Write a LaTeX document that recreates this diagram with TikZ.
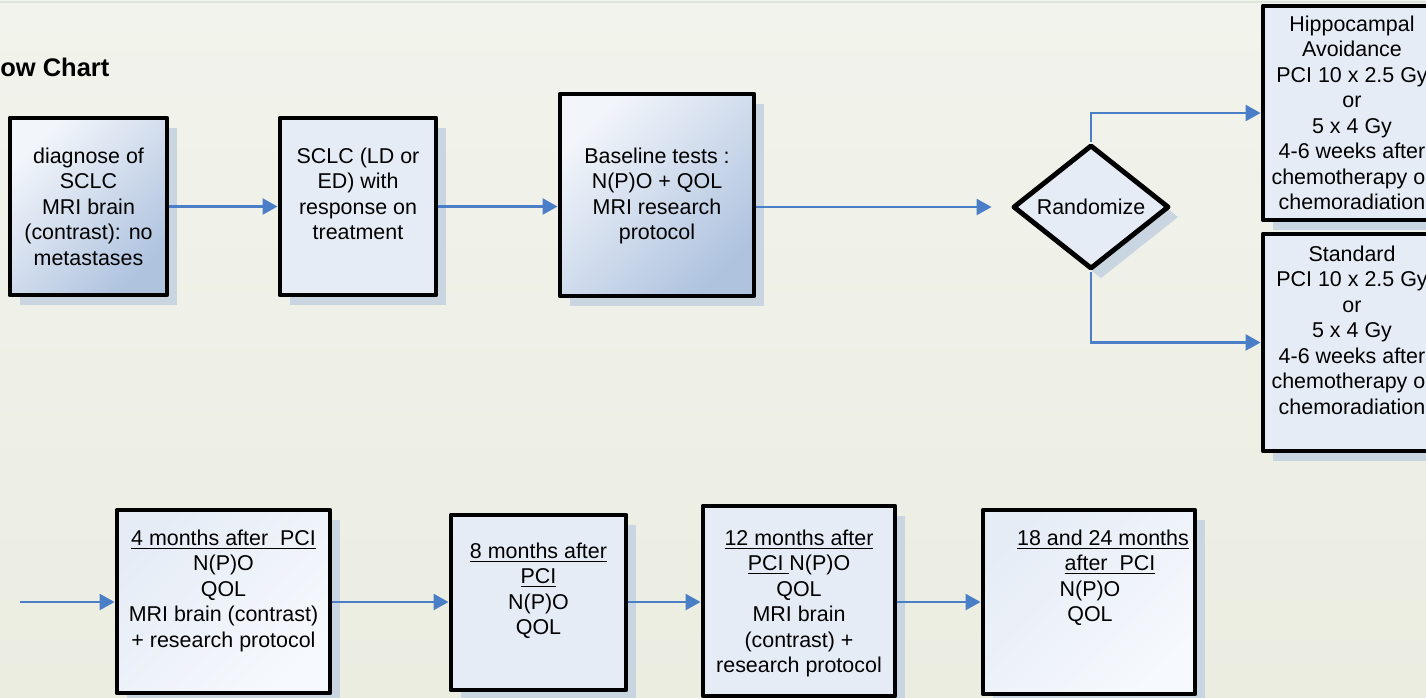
\documentclass[tikz,border=0pt]{standalone}
\usepackage{fontspec}
\setmainfont{Liberation Sans}
\usetikzlibrary{arrows.meta}
\usetikzlibrary{shapes.geometric}
\usetikzlibrary{shadows}

\definecolor{bgtop}{HTML}{F2F3EC}
\definecolor{bgbot}{HTML}{EBEDE1}
\definecolor{rule}{HTML}{DDE4DA}
\definecolor{boxlight}{HTML}{E6ECF6}
\definecolor{boxdark}{HTML}{AFC3DF}
\definecolor{boxwhite}{HTML}{F6F9FD}
\definecolor{shadowgray}{HTML}{C9D5E0}
\definecolor{flowblue}{HTML}{4A7EC6}

\tikzset{stage/.style = {draw, line width=2.8pt, line join=round, inner sep=0,
                         drop shadow={shadow xshift=0.2cm, shadow yshift=-0.2cm,
                                      fill=shadowgray, opacity=1}}}
\tikzset{plain/.style = {stage, fill=boxlight}}
\tikzset{deep/.style = {stage, top color=boxlight!50!white, bottom color=boxdark, shading angle=45}}
\tikzset{pale/.style = {stage, top color=boxlight, bottom color=boxwhite, shading angle=45}}
\tikzset{boxtext/.style = {anchor=north, align=center, inner sep=0,
                           font=\fontsize{12.2}{14.5}\selectfont}}
\tikzset{flow/.style = {draw=flowblue, line width=1.4pt, -{Triangle[length=0.3cm, width=0.32cm]}}}

\begin{document}
\begin{tikzpicture}[x=0.02cm, y=-0.02cm]
    \useasboundingbox (0,0) rectangle (1426,697);
    \clip (0,0) rectangle (1426,697);
    \fill [top color=bgtop, bottom color=bgbot] (0,0) rectangle (1426,697);
    \draw [rule, line width=0.6pt] (0,2) -- (1426,2);

    \node [anchor=west, inner sep=0, font=\bfseries\fontsize{14.5}{17}\selectfont] (title) at (0,67) {ow Chart};

    % upper row
    \node [deep, minimum width=3.14cm, minimum height=3.54cm] (diag) at (88.5,206.5) {};
    \node [plain, minimum width=3.12cm, minimum height=3.54cm] (resp) at (358,206.5) {};
    \node [deep, minimum width=3.88cm, minimum height=4.04cm] (base) at (657,195) {};
    \node [plain, diamond, minimum width=3.12cm, minimum height=2.32cm,
           font=\fontsize{12.2}{14.5}\selectfont] (rand) at (1091,207) {Randomize};
    \node [plain, minimum width=3.56cm, minimum height=4.28cm] (hippo) at (1352,113) {};
    \node [plain, minimum width=3.56cm, minimum height=4.34cm] (std) at (1352,342.5) {};

    \node [boxtext] (diagtxt) at (88.5,145) {\strut diagnose of\\ SCLC\\ MRI brain\\ (contrast): no\\ metastases};
    \node [boxtext] (resptxt) at (358,145) {\strut SCLC (LD or\\ ED) with\\ response on\\ treatment};
    \node [boxtext] (basetxt) at (657,145) {\strut Baseline tests :\\ N(P)O + QOL\\ MRI research\\ protocol};
    \node [boxtext] (hippotxt) at (1352,13) {\strut Hippocampal\\ Avoidance\\ PCI 10 x 2.5 Gy\\ or\\ 5 x 4 Gy\\
        4-6 weeks after\\ chemotherapy or\\ chemoradiation};
    \node [boxtext] (stdtxt) at (1352,243) {\strut Standard\\ PCI 10 x 2.5 Gy\\ or\\ 5 x 4 Gy\\
        4-6 weeks after\\ chemotherapy or\\ chemoradiation};

    \draw [flow] (diag.east) -- (resp.west);
    \draw [flow] (resp.east) -- (resp.east -| base.west);
    \draw [flow, shorten >=0.38cm] (base.east |- rand.west) -- (rand.west);
    \draw [flow] (rand.north) |- (hippo.west);
    \draw [flow] (rand.south) |- (std.west);

    % lower row
    \node [pale, minimum width=4.26cm, minimum height=3.66cm] (m4) at (223.5,601.5) {};
    \node [plain, minimum width=3.5cm, minimum height=3.5cm] (m8) at (538.5,602.5) {};
    \node [plain, minimum width=3.84cm, minimum height=3.8cm] (m12) at (799,601) {};
    \node [pale, minimum width=4.24cm, minimum height=3.68cm] (m24) at (1089,602) {};

    \node [boxtext] (m4txt) at (223.5,527) {\strut\underline{4 months after\ \ PCI}\\ N(P)O\\ QOL\\
        MRI brain (contrast)\\ + research protocol};
    \node [boxtext] (m8txt) at (538.5,540) {\strut\underline{8 months after}\\ \underline{PCI}\\ N(P)O\\ QOL};
    \node [boxtext] (m12txt) at (799,527) {\strut\underline{12 months after}\\ \underline{PCI\ }N(P)O\\ QOL\\
        MRI brain\\ (contrast) +\\ research protocol};
    \node [boxtext] (m24txt) at (1090,527) {\strut\hspace*{0.52cm}\underline{18 and 24 months}\\
        \hspace*{0.8cm}\underline{after\ \ PCI}\\ N(P)O\\ QOL};

    \coordinate (in) at (20,602);
    \draw [flow] (in) -- (in -| m4.west);
    \draw [flow] (in -| m4.east) -- (in -| m8.west);
    \draw [flow] (in -| m8.east) -- (in -| m12.west);
    \draw [flow] (in -| m12.east) -- (in -| m24.west);
\end{tikzpicture}
\end{document}
